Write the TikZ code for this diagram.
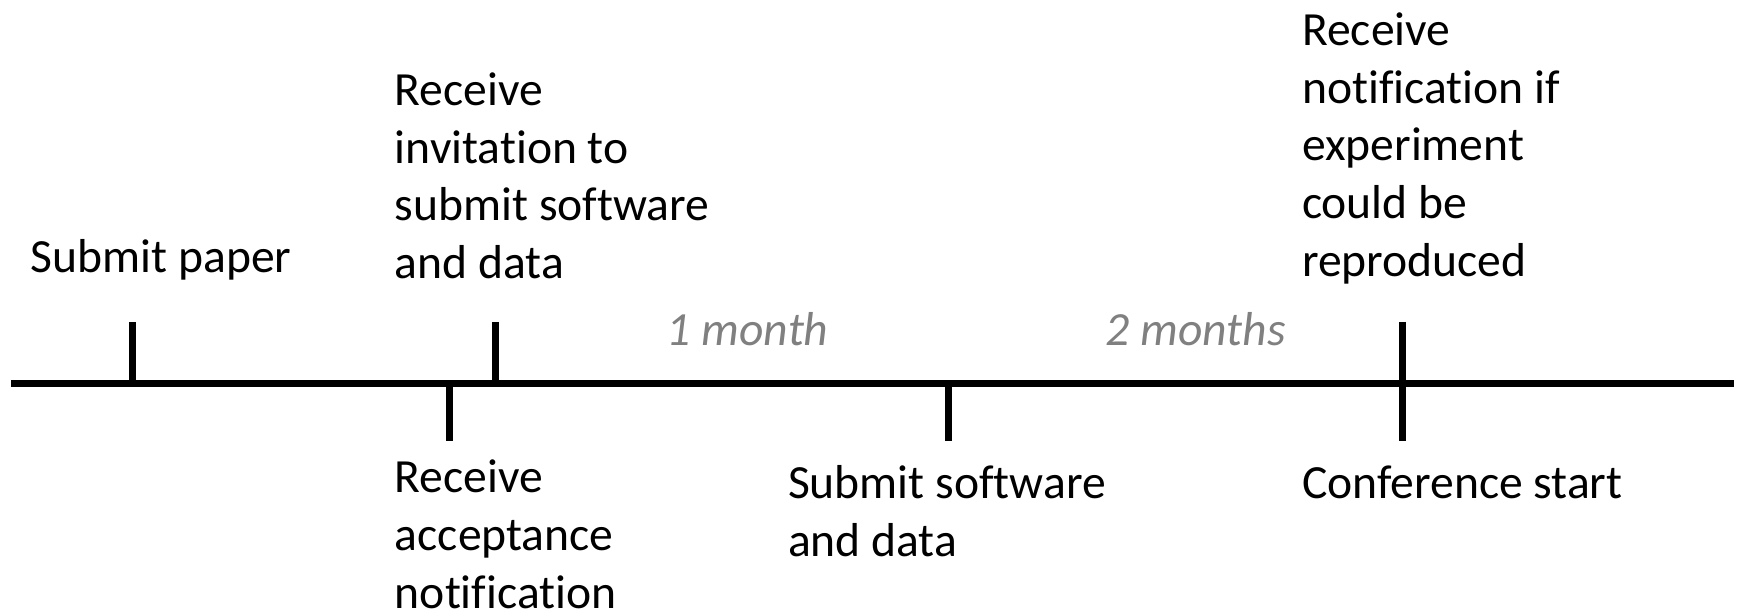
\documentclass[tikz,border=0pt]{standalone}
\usepackage{fontspec}
\setmainfont[Ligatures=NoCommon]{Carlito}
\usepackage{xcolor}
\usepackage{tikz}
\definecolor{spangray}{RGB}{128,128,128}

\begin{document}
\begin{tikzpicture}[font=\fontsize{12.2pt}{14.8pt}\selectfont,
  event/.style={anchor=base west, inner sep=0pt, align=left},
  span/.style={anchor=base west, inner sep=0pt, text=spangray, font=\fontsize{12.2pt}{14.8pt}\selectfont\itshape},
  tick/.style={line width=1.8pt}]
  \useasboundingbox (0,0) rectangle (15.68,5.54);
  % time axis
  \coordinate (start) at (0.10,2.09);
  \coordinate (end) at (15.62,2.09);
  \draw[tick] (start) -- (end);
  % ticks above and below the axis
  \coordinate (subtop) at (1.19,2.64);   \coordinate (subbot) at (1.19,2.09);
  \coordinate (invtop) at (4.46,2.64);   \coordinate (invbot) at (4.46,2.09);
  \coordinate (acctop) at (4.05,2.09);   \coordinate (accbot) at (4.05,1.57);
  \coordinate (swtop) at (8.54,2.09);    \coordinate (swbot) at (8.54,1.57);
  \coordinate (conftop) at (12.63,2.64); \coordinate (confbot) at (12.63,1.57);
  \draw[tick] (subtop) -- (subbot);
  \draw[tick] (invtop) -- (invbot);
  \draw[tick] (acctop) -- (accbot);
  \draw[tick] (swtop) -- (swbot);
  \draw[tick] (conftop) -- (confbot);
  % events (anchored at the baseline of the last line)
  \node[event] (paper) at (0.27,3.09) {Submit paper};
  \node[event] (invite) at (3.55,3.03) {Receive\\invitation to\\submit software\\and data};
  \node[event] (accept) at (3.55,0.06) {Receive\\acceptance\\notification};
  \node[event] (software) at (7.09,0.53) {Submit software\\and data};
  \node[event] (conf) at (11.72,1.05) {Conference start};
  \node[event] (repro) at (11.72,3.05) {Receive\\notification if\\experiment\\could be\\reproduced};
  % durations
  \node[span] (onemonth) at (6.00,2.43) {1 month};
  \node[span] (twomonths) at (9.95,2.43) {2 months};
\end{tikzpicture}
\end{document}
